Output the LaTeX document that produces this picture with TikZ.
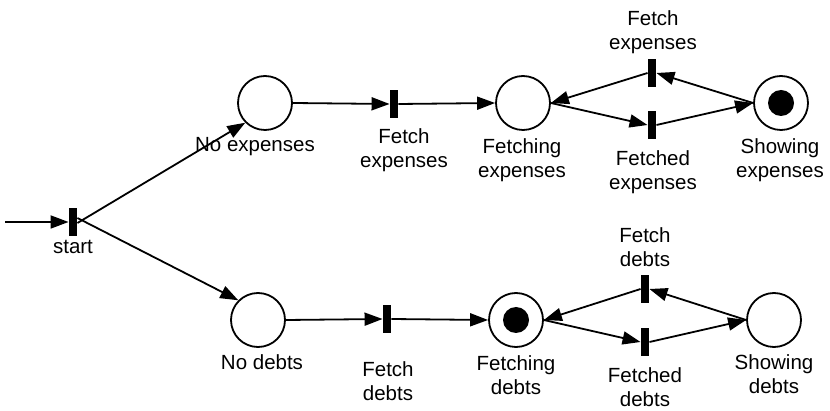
\documentclass[tikz,border=0pt]{standalone}
\usepackage{fontspec}
\setmainfont{Liberation Sans}
\usetikzlibrary{arrows.meta}
\tikzset{
  place/.style={circle,draw,line width=1.8pt,minimum size=54pt,inner sep=0pt},
  marked/.style={place,path picture={\fill[black] (path picture bounding box.center) circle (13pt);}},
  trans/.style={rectangle,fill=black,draw=none,minimum width=8.5pt,minimum height=28pt,inner sep=0pt},
  lbl/.style={align=center,font=\fontsize{20.5}{24.5}\selectfont,inner sep=0pt},
  arc/.style={line width=1.8pt,-{Triangle[length=18pt,width=13pt]}}
}
\begin{document}
\begin{tikzpicture}[x=1pt,y=-1pt]
\useasboundingbox (0,0) rectangle (830,411);
% start
\coordinate (in) at (5,222);
\node[trans] (st) at (73,222) {};
\node[lbl] (stl) at (73,247) {start};
% top row
\node[place] (ne) at (265,103) {};
\node[lbl] (nel) at (255,147) {No expenses};
\node[trans] (fe) at (394,104) {};
\node[lbl] (fel) at (404,150) {Fetch\\expenses};
\node[place] (fge) at (523,103) {};
\node[lbl] (fgel) at (522,160) {Fetching\\expenses};
\node[trans] (ufe) at (652,73) {};
\node[lbl] (ufel) at (653,32) {Fetch\\expenses};
\node[trans] (lfe) at (652,125) {};
\node[lbl] (lfel) at (653,172) {Fetched\\expenses};
\node[marked] (se) at (781,103) {};
\node[lbl] (sel) at (780,160) {Showing\\expenses};
% bottom row
\node[place] (nd) at (258,320) {};
\node[lbl] (ndl) at (262,362) {No debts};
\node[trans] (fd) at (387,319) {};
\node[lbl] (fdl) at (388,381) {Fetch\\debts};
\node[marked] (fgd) at (516,320) {};
\node[lbl] (fgdl) at (516,375) {Fetching\\debts};
\node[trans] (ufd) at (645,289) {};
\node[lbl] (ufdl) at (645,247) {Fetch\\debts};
\node[trans] (lfd) at (645,342) {};
\node[lbl] (lfdl) at (645,387) {Fetched\\debts};
\node[place] (sd) at (774,320) {};
\node[lbl] (sdl) at (774,374) {Showing\\debts};
% arcs
\draw[arc] (in) -- (st.west);
\draw[arc] ([yshift=-1pt]st.east) -- (ne.south west);
\draw[arc] ([yshift=4pt]st.east) -- (nd.north west);
\draw[arc] (ne.east) -- (fe.west);
\draw[arc] (fe.east) -- (fge.west);
\draw[arc] (fge.east) -- (lfe.west);
\draw[arc] (lfe.east) -- (se.west);
\draw[arc] (se.west) -- (ufe.east);
\draw[arc] (ufe.west) -- (fge.east);
\draw[arc] (nd.east) -- (fd.west);
\draw[arc] (fd.east) -- (fgd.west);
\draw[arc] (fgd.east) -- (lfd.west);
\draw[arc] (lfd.east) -- (sd.west);
\draw[arc] (sd.west) -- (ufd.east);
\draw[arc] (ufd.west) -- (fgd.east);
\end{tikzpicture}
\end{document}
